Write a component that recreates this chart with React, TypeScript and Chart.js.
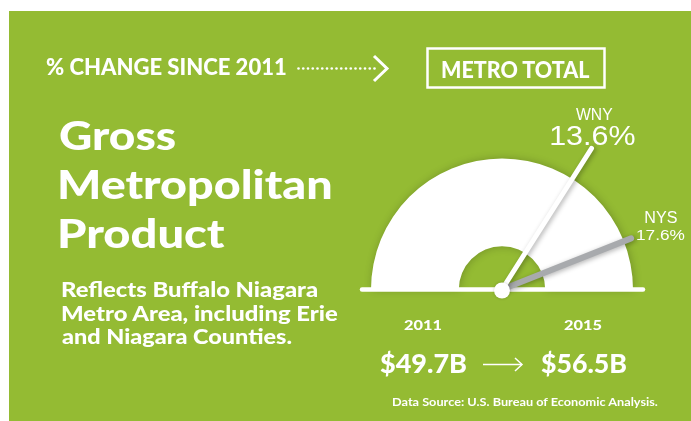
import React, { useEffect, useRef } from "react";
import { Chart, registerables } from "chart.js";

Chart.register(...registerables);

// ---- data ----
const gaugeLabels = ["WNY", "NYS"];
const gaugeValues = [13.6, 17.6]; // % change since 2011
const gaugeMax = 20;
const years = ["2011", "2015"];
const gmpValues = ["$49.7B", "$56.5B"];
const titleLines = ["Gross", "Metropolitan", "Product"];
const noteLines = [
  "Reflects Buffalo Niagara",
  "Metro Area, including Erie",
  "and Niagara Counties.",
];

// ---- styles ----
const GREEN = "rgb(148,187,51)";
const SANS = "Lato, 'Open Sans', sans-serif";
const ARIAL = "'Liberation Sans', Arial, sans-serif";
const needleColors = ["#FFFFFF", "#A8AAAD"];
const needleWidths = [5, 6];
const needleLen = [1.275, 1.06];

let mctx: CanvasRenderingContext2D | null = null;
function ctx2d() {
  if (!mctx) mctx = document.createElement("canvas").getContext("2d");
  return mctx!;
}
function capRatio(weight: number | string, family: string) {
  const c = ctx2d();
  c.font = `${weight} 100px ${family}`;
  return c.measureText("H").actualBoundingBoxAscent / 100;
}

type TP = {
  text: string;
  x: number; // ink left (or ink centre when align = center)
  base: number; // baseline y
  cap: number; // cap height px
  width: number; // ink width
  align?: "left" | "center";
  weight?: number;
  family?: string;
};
function T({ text, x, base, cap, width, align = "left", weight = 900, family = SANS }: TP) {
  const size = cap / capRatio(weight, family);
  const font = `${weight} ${size}px ${family}`;
  const c = ctx2d();
  c.font = font;
  const m = c.measureText(text);
  const A = m.fontBoundingBoxAscent;
  const D = m.fontBoundingBoxDescent;
  const abl = m.actualBoundingBoxLeft;
  const abr = m.actualBoundingBoxRight;
  const s = width / (abl + abr);
  const inkLeft = align === "center" ? x - width / 2 : x;
  const x0 = inkLeft + abl * s;
  return (
    <div
      style={{
        position: "absolute",
        left: x0,
        top: base - A,
        font,
        lineHeight: `${A + D}px`,
        height: A + D,
        whiteSpace: "nowrap",
        color: "#fff",
        transform: `scaleX(${s})`,
        transformOrigin: "0 0",
      }}
    >
      {text}
    </div>
  );
}

function fitText(
  ctx: CanvasRenderingContext2D,
  text: string,
  x: number,
  y: number,
  font: string,
  width: number,
  align: "left" | "center"
) {
  ctx.save();
  ctx.font = font;
  const m = ctx.measureText(text);
  const w = m.actualBoundingBoxLeft + m.actualBoundingBoxRight;
  const s = width / w;
  const inkLeft = align === "center" ? x - width / 2 : x;
  ctx.translate(inkLeft + m.actualBoundingBoxLeft * s, y);
  ctx.scale(s, 1);
  ctx.textAlign = "left";
  ctx.textBaseline = "alphabetic";
  ctx.fillStyle = "#fff";
  ctx.fillText(text, 0, 0);
  ctx.restore();
}

// label layout relative to needle tip
const labelLayout = [
  { name: { dx: 3, dy: -28.5, cap: 11, w: 37 }, val: { dx: 1.4, dy: -3.4, cap: 18.6, w: 83 } },
  { name: { dx: 30, dy: -15, cap: 11, w: 31.5 }, val: { dx: 30, dy: 1.3, cap: 10.7, w: 48 } },
];

const needlePlugin = {
  id: "needles",
  beforeDatasetsDraw(chart: any) {
    const ctx = chart.ctx;
    ctx.save();
    ctx.shadowColor = "rgba(0,0,0,0.22)";
    ctx.shadowBlur = 8;
    ctx.shadowOffsetX = 1;
    ctx.shadowOffsetY = 0;
  },
  afterDatasetsDraw(chart: any) {
    const ctx: CanvasRenderingContext2D = chart.ctx;
    ctx.restore();
    const arc = chart.getDatasetMeta(0).data[0];
    const { x, y, outerRadius: R } = arc.getProps(["x", "y", "outerRadius"], true);
    ctx.save();
    // base line
    ctx.strokeStyle = "#fff";
    ctx.lineWidth = 4.5;
    ctx.lineCap = "round";
    ctx.beginPath();
    ctx.moveTo(x - R - 9, y);
    ctx.lineTo(x + R + 10, y);
    ctx.stroke();
    const cr = capRatio(400, ARIAL);
    for (const i of [1, 0]) {
      const a = Math.PI + (gaugeValues[i] / gaugeMax) * Math.PI;
      const L = R * needleLen[i];
      const tx = x + L * Math.cos(a);
      const ty = y + L * Math.sin(a);
      ctx.save();
      ctx.shadowColor = "rgba(0,0,0,0.3)";
      ctx.shadowBlur = 5;
      ctx.shadowOffsetX = 2;
      ctx.shadowOffsetY = 1;
      ctx.strokeStyle = needleColors[i];
      ctx.lineWidth = needleWidths[i];
      ctx.lineCap = "round";
      ctx.beginPath();
      ctx.moveTo(x, y);
      ctx.lineTo(tx, ty);
      ctx.stroke();
      ctx.restore();
      const lay = labelLayout[i];
      fitText(ctx, gaugeLabels[i], tx + lay.name.dx, ty + lay.name.dy,
        `400 ${lay.name.cap / cr}px ${ARIAL}`, lay.name.w, "center");
      fitText(ctx, `${gaugeValues[i].toFixed(1)}%`, tx + lay.val.dx, ty + lay.val.dy,
        `400 ${lay.val.cap / cr}px ${ARIAL}`, lay.val.w, "center");
    }
    // hub
    ctx.save();
    ctx.shadowColor = "rgba(0,0,0,0.2)";
    ctx.shadowBlur = 3;
    ctx.fillStyle = "#fff";
    ctx.beginPath();
    ctx.arc(x, y + 1, 8, 0, Math.PI * 2);
    ctx.fill();
    ctx.restore();
    ctx.restore();
  },
};

function Gauge() {
  const ref = useRef<HTMLCanvasElement>(null);
  useEffect(() => {
    const chart = new Chart(ref.current!, {
      type: "doughnut",
      data: {
        labels: ["scale"],
        datasets: [{ data: [gaugeMax], backgroundColor: "#FFFFFF", borderWidth: 0 }],
      },
      options: {
        responsive: false,
        animation: false,
        rotation: -90,
        circumference: 180,
        cutout: "33%",
        events: [],
        layout: { padding: { left: 362, right: 58, top: 147.5, bottom: 131.5 } },
        plugins: { legend: { display: false }, tooltip: { enabled: false } },
      } as any,
      plugins: [needlePlugin],
    });
    return () => chart.destroy();
  }, []);
  return (
    <canvas
      ref={ref}
      width={682}
      height={410}
      style={{ position: "absolute", left: 9, top: 11, width: 682, height: 410 }}
    />
  );
}

export default function App() {
  const dots = [];
  for (let i = 0; i < 17; i++) dots.push(<circle key={i} cx={298.5 + i * 4.75} cy={68.5} r={1.3} fill="#fff" />);
  const titleBase = [150, 199.3, 247.7];
  const titleW = [115, 270, 165];
  const noteBase = [297.3, 321, 344];
  const noteW = [255, 276, 230];
  return (
    <div style={{ position: "absolute", left: 0, top: 0, width: 691, height: 421, overflow: "hidden", background: "#fff" }}>
      <div style={{ position: "absolute", left: 9, top: 11, width: 682, height: 410, background: GREEN }} />
      <Gauge />
      <svg width={691} height={421} style={{ position: "absolute", left: 0, top: 0 }}>
        {dots}
        <polyline points="374,56 387,68.5 374,81" fill="none" stroke="#fff" strokeWidth={3} />
        <rect x={427.5} y={48.5} width={177} height={39} fill="none" stroke="#fff" strokeWidth={2.5} />
        <line x1={483} y1={364.5} x2={522} y2={364.5} stroke="#fff" strokeWidth={1.5} />
        <polyline points="515,358 522,364.5 515,371" fill="none" stroke="#fff" strokeWidth={1.5} />
      </svg>
      <T text="% CHANGE SINCE 2011" x={46} base={75} cap={16} width={240} />
      <T text="METRO TOTAL" x={442} base={78} cap={17} width={148} />
      {titleLines.map((t, i) => (
        <T key={t} text={t} x={60} base={titleBase[i]} cap={29.5} width={titleW[i]} />
      ))}
      {noteLines.map((t, i) => (
        <T key={t} text={t} x={61.7} base={noteBase[i]} cap={15.5} width={noteW[i]} />
      ))}
      <T text={years[0]} x={422.5} base={330} cap={10} width={38} align="center" />
      <T text={years[1]} x={583.3} base={330} cap={10} width={38} align="center" />
      <T text={gmpValues[0]} x={380} base={373.3} cap={19} width={86.7} />
      <T text={gmpValues[1]} x={541} base={373.3} cap={19} width={85.7} />
      <T text="Data Source: U.S. Bureau of Economic Analysis." x={391.7} base={406} cap={8.7} width={266.7} weight={700} />
    </div>
  );
}
